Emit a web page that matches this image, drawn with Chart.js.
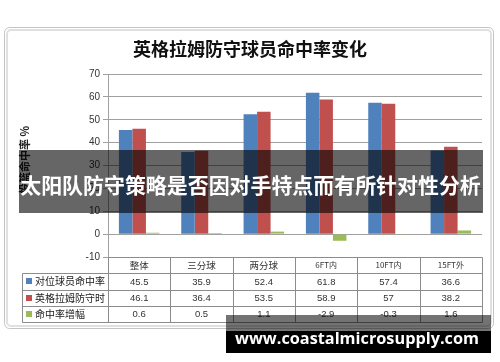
<!DOCTYPE html>
<html>
<head>
<meta charset="utf-8">
<script src="https://cdn.jsdelivr.net/npm/chart.js@4.4.0/dist/chart.umd.min.js"></script>
<style>
html,body{margin:0;padding:0;background:#fff}
#wrap{width:500px;height:362px;position:relative}
</style>
</head>
<body>
<div id="wrap"><canvas id="c"></canvas></div>
<script>
// chart data
const categories = ['整体', '三分球', '两分球', '6FT内', '10FT内', '15FT外'];
const opponentPct = [45.5, 35.9, 52.4, 61.8, 57.4, 36.6];
const ingramPct = [46.1, 36.4, 53.5, 58.9, 57, 38.2];
const deltaPct = [0.6, 0.5, 1.1, -2.9, -0.3, 1.6];
const seriesNames = ['对位球员命中率', '英格拉姆防守时', '命中率增幅'];
const yMin = -10, yMax = 70, yStep = 10;

const COLORS = ['#4f81bd', '#c0504d', '#9bbb59'];
const CJK = '"Noto Sans CJK SC", sans-serif';

function fitFont(ctx, text, width, weight, family) {
  ctx.font = weight + ' 20px ' + family;
  const w = ctx.measureText(text).width;
  return weight + ' ' + (20 * width / w).toFixed(2) + 'px ' + family;
}

function roundRect(ctx, x, y, w, h, r) {
  ctx.beginPath();
  ctx.moveTo(x + r, y);
  ctx.arcTo(x + w, y, x + w, y + h, r);
  ctx.arcTo(x + w, y + h, x, y + h, r);
  ctx.arcTo(x, y + h, x, y, r);
  ctx.arcTo(x, y, x + w, y, r);
  ctx.closePath();
}

const decor = {
  id: 'decor',
  beforeDraw(chart) {
    const ctx = chart.ctx;
    ctx.save();
    // chart frame
    ctx.lineWidth = 1;
    ctx.strokeStyle = '#c4c4c4';
    roundRect(ctx, 4.5, 27.5, 489, 301, 5);
    ctx.stroke();
    ctx.strokeStyle = '#e0e0e0';
    ctx.lineWidth = 2;
    roundRect(ctx, 7, 30, 484, 296, 4);
    ctx.stroke();
    // title
    ctx.fillStyle = '#111';
    ctx.textAlign = 'center';
    ctx.textBaseline = 'middle';
    ctx.font = fitFont(ctx, '英格拉姆防守球员命中率变化', 234, 'bold', CJK);
    ctx.fillText('英格拉姆防守球员命中率变化', 250, 49.5);
    // y axis title
    ctx.translate(25, 160);
    ctx.rotate(-Math.PI / 2);
    ctx.font = 'bold 11px ' + CJK;
    ctx.fillStyle = '#222';
    ctx.fillText('投篮命中率 %', 0, 0);
    ctx.restore();
  },
  afterDraw(chart) {
    const ctx = chart.ctx;
    const area = chart.chartArea;
    const x = chart.scales.x;
    const n = categories.length;
    const cw = (area.right - area.left) / n;
    const rh = 16.3;
    const top = area.bottom;
    const rows = [opponentPct, ingramPct, deltaPct];
    ctx.save();
    // table grid
    ctx.strokeStyle = '#8c8c8c';
    ctx.lineWidth = 1;
    ctx.beginPath();
    const lx = 22.5;
    const L = Math.round(area.left) + 0.5, R = Math.round(area.right) + 0.5;
    const bottom = top + rh * 4;
    ctx.moveTo(L, Math.round(top) + 0.5); ctx.lineTo(R, Math.round(top) + 0.5);
    for (let r = 1; r <= 4; r++) {
      const yy = Math.round(top + rh * r) + 0.5;
      ctx.moveTo(lx, yy); ctx.lineTo(R, yy);
    }
    ctx.moveTo(lx, Math.round(top + rh) + 0.5); ctx.lineTo(lx, Math.round(bottom) + 0.5);
    for (let i = 0; i <= n; i++) {
      const xx = Math.round(area.left + cw * i) + 0.5;
      ctx.moveTo(xx, Math.round(top) + 0.5); ctx.lineTo(xx, Math.round(bottom) + 0.5);
    }
    ctx.stroke();
    // header
    ctx.textAlign = 'center';
    ctx.textBaseline = 'middle';
    ctx.fillStyle = '#333';
    categories.forEach((c, i) => {
      const cx = x.getPixelForValue(i);
      ctx.font = /FT/.test(c) ? '8px ' + CJK : '9.5px ' + CJK;
      ctx.fillText(c, cx, top + rh / 2);
    });
    // rows
    rows.forEach((vals, r) => {
      const cy = top + rh * (r + 1.5);
      ctx.fillStyle = COLORS[r];
      ctx.fillRect(26, Math.round(cy) - 3, 6, 6);
      ctx.fillStyle = '#222';
      ctx.textAlign = 'left';
      ctx.font = '10px ' + CJK;
      ctx.fillText(seriesNames[r], 35, cy);
      ctx.textAlign = 'center';
      ctx.font = '9.5px "Liberation Sans", sans-serif';
      ctx.fillStyle = '#333';
      vals.forEach((v, i) => ctx.fillText(String(v), x.getPixelForValue(i), cy + 0.5));
    });
    // overlay banner
    ctx.fillStyle = 'rgba(0,0,0,0.6)';
    ctx.fillRect(19, 150, 464, 63);
    ctx.fillStyle = '#fff';
    const banner = '太阳队防守策略是否因对手特点而有所针对性分析';
    ctx.font = fitFont(ctx, banner, 461, 'bold', CJK);
    ctx.fillText(banner, 250.5, 185);
    // watermark
    ctx.fillStyle = 'rgba(0,0,0,0.55)';
    ctx.fillRect(226, 315, 265, 16);
    ctx.fillStyle = '#000';
    ctx.fillRect(226, 331, 265, 22);
    ctx.fillStyle = '#fff';
    const wm = 'www.coastalmicrosupply.com';
    ctx.font = fitFont(ctx, wm, 244, 'bold', '"Open Sans", sans-serif');
    ctx.textBaseline = 'alphabetic';
    ctx.fillText(wm, 357, 344);
    ctx.restore();
  }
};

new Chart(document.getElementById('c'), {
  type: 'bar',
  data: {
    labels: categories,
    datasets: [opponentPct, ingramPct, deltaPct].map((d, i) => ({
      label: seriesNames[i],
      data: d,
      backgroundColor: COLORS[i],
      borderWidth: 0,
      barPercentage: 1,
      categoryPercentage: 0.65
    }))
  },
  options: {
    responsive: true,
    maintainAspectRatio: false,
    animation: false,
    layout: { padding: { left: 0, right: 18, top: 74, bottom: 105 } },
    plugins: { legend: { display: false }, tooltip: { enabled: false } },
    scales: {
      x: { display: false },
      y: {
        min: yMin, max: yMax,
        afterFit: s => { s.width = 108; },
        ticks: { stepSize: yStep, color: '#333', padding: 3,
          font: { size: 10, family: '"Liberation Sans", Arial, sans-serif' } },
        grid: { color: '#a0a0a0', tickLength: 5 },
        border: { color: '#a0a0a0' }
      }
    }
  },
  plugins: [decor]
});
</script>
</body>
</html>
